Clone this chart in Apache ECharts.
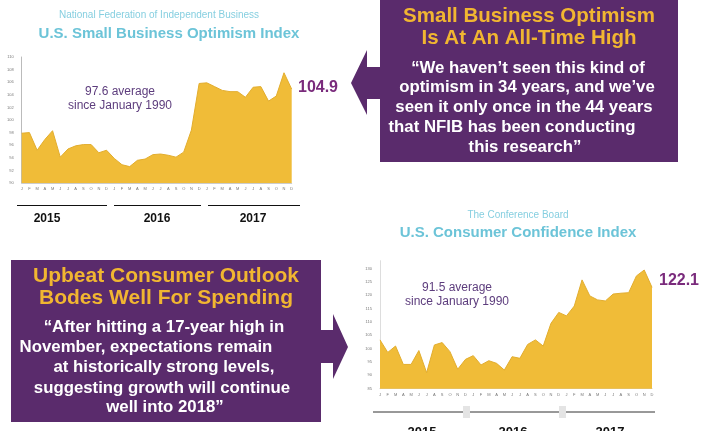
<!DOCTYPE html>
<html>
<head>
<meta charset="utf-8">
<script src="https://cdn.jsdelivr.net/npm/echarts@6/dist/echarts.min.js"></script>
<style>
html, body { margin: 0; padding: 0; background: #fff; }
#main { width: 703px; height: 431px; }
</style>
</head>
<body>
<div id="main"></div>
<script>
var monthInitials = ['J', 'F', 'M', 'A', 'M', 'J', 'J', 'A', 'S', 'O', 'N', 'D'];
var years = ['2015', '2016', '2017'];
var months = [];
years.forEach(function (y) {
    monthInitials.forEach(function (m, i) { months.push(y + '-' + (i + 1) + '|' + m); });
});

// NFIB small business optimism, Jan 2015 - Dec 2017
var optimism = [97.9, 98.0, 95.2, 96.9, 98.3, 94.1, 95.4, 95.9, 96.1, 96.1, 94.8, 95.2,
                93.9, 92.9, 92.6, 93.6, 93.8, 94.5, 94.6, 94.4, 94.1, 94.9, 98.4, 105.8,
                105.9, 105.3, 104.7, 104.5, 104.5, 103.6, 105.2, 105.3, 103.0, 103.8, 107.5, 104.9];

// Conference Board consumer confidence, Jan 2015 - Dec 2017
var confidence = [103.3, 98.6, 101.0, 94.1, 94.1, 99.3, 91.0, 101.4, 102.3, 98.9, 92.3, 96.0,
                  97.4, 93.9, 95.5, 94.5, 92.0, 97.0, 96.4, 101.6, 103.3, 101.0, 109.5, 113.6,
                  112.3, 116.0, 125.8, 119.8, 118.3, 117.9, 120.5, 120.8, 121.0, 127.3, 129.5, 123.0];

var FONT = '"Liberation Sans", Arial, sans-serif';
var PURPLE = '#5a2b6c';
var GOLD = '#f0bc38';

var chart = echarts.init(document.getElementById('main'));

function txt(text, x, y, size, color, weight, align) {
    return {
        type: 'text', silent: true,
        style: {
            text: text, x: x, y: y, fill: color,
            fontSize: size, fontWeight: weight || 'normal', fontFamily: FONT,
            align: align || 'center', verticalAlign: 'middle'
        }
    };
}
function hline(x1, x2, y, color, w) {
    return { type: 'line', silent: true, shape: { x1: x1, y1: y, x2: x2, y2: y },
             style: { stroke: color, lineWidth: w } };
}

var graphics = [
    // top right callout
    { type: 'polygon', silent: true,
      shape: { points: [[380, 0], [678, 0], [678, 162], [380, 162], [380, 99], [367, 99], [367, 115],
                        [351, 83], [367, 50], [367, 67], [380, 67]] },
      style: { fill: PURPLE } },
    txt('Small Business Optimism', 529, 16, 20.5, '#f1b631', 'bold'),
    txt('Is At An All-Time High', 529, 38, 20.5, '#f1b631', 'bold'),
    txt('\u201CWe haven\u2019t seen this kind of', 528, 68, 16.8, '#fff', 'bold'),
    txt('optimism in 34 years, and we\u2019ve', 527, 87, 16.8, '#fff', 'bold'),
    txt('seen it only once in the 44 years', 524, 107, 16.8, '#fff', 'bold'),
    txt('that NFIB has been conducting', 512, 127, 16.8, '#fff', 'bold'),
    txt('this research\u201D', 525, 147, 16.8, '#fff', 'bold'),

    // bottom left callout
    { type: 'polygon', silent: true,
      shape: { points: [[11, 260], [321, 260], [321, 330], [333, 330], [333, 314], [348, 347], [333, 379],
                        [333, 363], [321, 363], [321, 422], [11, 422]] },
      style: { fill: PURPLE } },
    txt('Upbeat Consumer Outlook', 166, 276, 21, '#f1b631', 'bold'),
    txt('Bodes Well For Spending', 166, 298, 21, '#f1b631', 'bold'),
    txt('\u201CAfter hitting a 17-year high in', 164, 327, 16.8, '#fff', 'bold'),
    txt('November, expectations remain', 146, 347, 16.8, '#fff', 'bold'),
    txt('at historically strong levels,', 164, 367, 16.8, '#fff', 'bold'),
    txt('suggesting growth will continue', 162, 388, 16.8, '#fff', 'bold'),
    txt('well into 2018\u201D', 165, 407, 16.8, '#fff', 'bold'),

    // top chart titles and notes
    txt('National Federation of Independent Business', 159, 15, 10, '#86cfe0'),
    txt('U.S. Small Business Optimism Index', 169, 34, 15, '#6cc4d8', 'bold'),
    txt('97.6 average', 120, 92, 12, '#5d3d7d'),
    txt('since January 1990', 120, 106, 12, '#5d3d7d'),
    txt('Index:', 48, 164, 7, '#333'),
    txt('1986=100', 48, 173, 7, '#333'),
    txt('104.9', 318, 88, 16, '#7a2b7c', 'bold'),
    hline(17, 107, 205.5, '#111', 1),
    hline(114, 201, 205.5, '#111', 1),
    hline(208, 300, 205.5, '#111', 1),
    txt(years[0], 47, 219, 12, '#111', 'bold'),
    txt(years[1], 157, 219, 12, '#111', 'bold'),
    txt(years[2], 253, 219, 12, '#111', 'bold'),

    // bottom chart titles and notes
    txt('The Conference Board', 518, 215, 10, '#86cfe0'),
    txt('U.S. Consumer Confidence Index', 518, 233, 15, '#6cc4d8', 'bold'),
    txt('91.5 average', 457, 288, 12, '#5d3d7d'),
    txt('since January 1990', 457, 302, 12, '#5d3d7d'),
    txt('Index:', 401, 375, 7, '#333'),
    txt('1985=100', 401, 384, 7, '#333'),
    txt('122.1', 679, 281, 16, '#7a2b7c', 'bold'),
    hline(373, 655, 412, '#333', 1),
    { type: 'rect', silent: true, shape: { x: 463, y: 406, width: 7, height: 12 }, style: { fill: '#e4e4e4' } },
    { type: 'rect', silent: true, shape: { x: 559, y: 406, width: 7, height: 12 }, style: { fill: '#e4e4e4' } },
    txt(years[0], 422, 432, 13, '#111', 'bold'),
    txt(years[1], 513, 432, 13, '#111', 'bold'),
    txt(years[2], 610, 432, 13, '#111', 'bold')
];

function xAxisFor(gridIndex) {
    return {
        type: 'category', gridIndex: gridIndex, data: months, boundaryGap: false,
        axisLine: { lineStyle: { color: '#ccc' } },
        axisTick: { show: false },
        axisLabel: { interval: 0, fontSize: 4, color: '#777', margin: 4,
                     formatter: function (v) { return v.split('|')[1]; } },
        splitLine: { show: false }
    };
}

option = {
    backgroundColor: '#fff',
    animation: false,
    graphic: graphics,
    grid: [
        { left: 21.7, right: 411.3, top: 57, bottom: 248 },
        { left: 380, right: 51, top: 260.7, bottom: 42.3 }
    ],
    xAxis: [xAxisFor(0), xAxisFor(1)],
    yAxis: [
        { type: 'value', gridIndex: 0, min: 90, max: 110, interval: 2,
          axisLine: { show: true, lineStyle: { color: '#bbb' } }, axisTick: { show: false },
          axisLabel: { fontSize: 4, color: '#777', margin: 8 }, splitLine: { show: false } },
        { type: 'value', gridIndex: 1, min: 85, max: 133, interval: 5,
          axisLine: { show: true, lineStyle: { color: '#ddd' } }, axisTick: { show: false },
          axisLabel: { fontSize: 4, color: '#777', margin: 8, showMaxLabel: false },
          splitLine: { show: false } }
    ],
    series: [
        { name: 'Optimism', type: 'line', xAxisIndex: 0, yAxisIndex: 0, data: optimism,
          symbol: 'none', lineStyle: { color: '#e2ad2e', width: 1 },
          areaStyle: { color: GOLD, opacity: 1 } },
        { name: 'Confidence', type: 'line', xAxisIndex: 1, yAxisIndex: 1, data: confidence,
          symbol: 'none', lineStyle: { color: '#e2ad2e', width: 1 },
          areaStyle: { color: GOLD, opacity: 1 } }
    ]
};
chart.setOption(option);
</script>
</body>
</html>
